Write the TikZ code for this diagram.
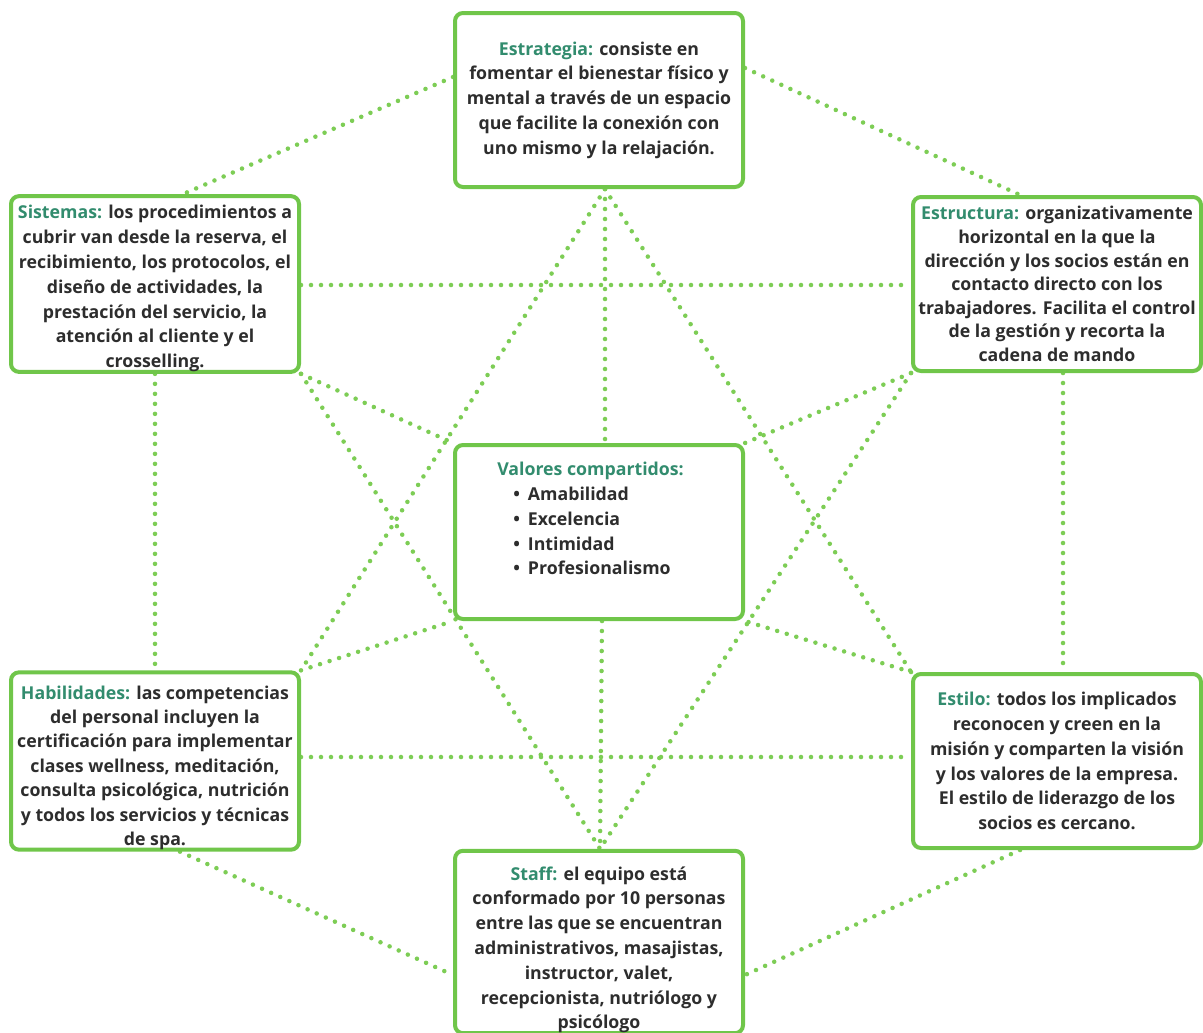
\documentclass[tikz,border=0pt]{standalone}
\usepackage{fontspec}
\setmainfont{Open Sans}
\usetikzlibrary{calc}
\pgfdeclarelayer{background}
\pgfsetlayers{background,main}
\definecolor{boxgreen}{RGB}{112,198,74}
\definecolor{dotgreen}{RGB}{125,205,85}
\definecolor{headteal}{RGB}{50,140,110}
\definecolor{txtgray}{RGB}{45,45,45}
\newcommand{\hd}[1]{\textcolor{headteal}{#1}}
\newcommand{\pushdown}[1]{\rule{0pt}{#1}}
\begin{document}
\begin{tikzpicture}[x=0.75pt,y=-0.75pt,
  box/.style={draw=boxgreen, line width=3pt, rounded corners=6pt, fill=white,
    minimum width=216pt, minimum height=130.5pt, inner sep=0pt, align=center,
    font=\bfseries\fontsize{13.3}{18.6}\selectfont, text=txtgray},
  link/.style={draw=dotgreen, line width=3.4pt, line cap=round, dash pattern=on 0pt off 7.5pt}]
\useasboundingbox (0,0) rectangle (1203,1032);

\node[box] (est) at (599,100) {\hd{Estrategia:} consiste en\\fomentar el bienestar físico y\\mental a través de un espacio\\que facilite la conexión con\\uno mismo y la relajación.};
\node[box] (sis) at (155,284) {\pushdown{17pt}\hd{Sistemas:} los procedimientos a\\cubrir van desde la reserva, el\\recibimiento, los protocolos, el\\diseño de actividades, la\\prestación del servicio, la\\atención al cliente y el\\crosselling.};
\node[box, font=\bfseries\fontsize{13.3}{17.7}\selectfont] (estr) at (1057,284) {\hd{Estructura:} organizativamente\\horizontal en la que la\\dirección y los socios están en\\contacto directo con los\\trabajadores. Facilita el control\\de la gestión y recorta la\\cadena de mando};
\node[box] (val) at (599,532) {};
\node[anchor=north west, align=left, inner sep=0pt, text=txtgray,
  font=\bfseries\fontsize{13.3}{18.6}\selectfont] (valtxt) at (497,462)
  {\hd{Valores compartidos:}\\\hspace*{12pt}\textbullet\hspace{6pt}Amabilidad\\\hspace*{12pt}\textbullet\hspace{6pt}Excelencia\\\hspace*{12pt}\textbullet\hspace{6pt}Intimidad\\\hspace*{12pt}\textbullet\hspace{6pt}Profesionalismo};
\node[box, font=\bfseries\fontsize{13.3}{18.3}\selectfont] (hab) at (155,761) {\pushdown{20pt}\hd{Habilidades:} las competencias\\del personal incluyen la\\certificación para implementar\\clases wellness, meditación,\\consulta psicológica, nutrición\\y todos los servicios y técnicas\\de spa.};
\node[box] (sty) at (1057,761) {\hd{Estilo:} todos los implicados\\reconocen y creen en la\\misión y comparten la visión\\y los valores de la empresa.\\El estilo de liderazgo de los\\socios es cercano.};
\node[box] (stf) at (599,942) {\pushdown{22pt}\hd{Staff:} el equipo está\\conformado por 10 personas\\entre las que se encuentran\\administrativos, masajistas,\\instructor, valet,\\recepcionista, nutriólogo y\\psicólogo};

\coordinate (estSW) at ($(est.south)+(6,0)$);
\coordinate (stfN) at ($(stf.north)+(1,0)$);

\begin{pgfonlayer}{background}
\draw[link] ($(est.west)+(0,-23)$) -- ($(sis.north)+(28,0)$);
\draw[link] ($(est.east)+(0,-32)$) -- ($(estr.north)+(-37,0)$);
\draw[link] (estSW) -- ($(val.north)+(6,0)$);
\draw[link] (estSW) -- (hab.north east);
\draw[link] (estSW) -- (sty.north west);
\draw[link] ($(sis.east)+(0,1)$) -- ($(estr.west)+(0,1)$);
\draw[link] (sis.south east) -- (val.north west);
\draw[link] (sis.south east) -- (stfN);
\draw[link] (estr.south west) -- (val.north east);
\draw[link] (estr.south west) -- (stfN);
\draw[link] (sis.south) -- (hab.north);
\draw[link] ($(estr.south)+(6,0)$) -- ($(sty.north)+(6,0)$);
\draw[link] ($(val.south)+(3,0)$) -- (stfN);
\draw[link] (hab.north east) -- (val.south west);
\draw[link] (sty.north west) -- (val.south east);
\draw[link] ($(hab.east)+(0,-4)$) -- ($(sty.west)+(0,-4)$);
\draw[link] ($(hab.south)+(25,0)$) -- ($(stf.west)+(0,33)$);
\draw[link] ($(sty.south)+(-37,0)$) -- ($(stf.east)+(0,33)$);
\end{pgfonlayer}
\end{tikzpicture}
\end{document}
